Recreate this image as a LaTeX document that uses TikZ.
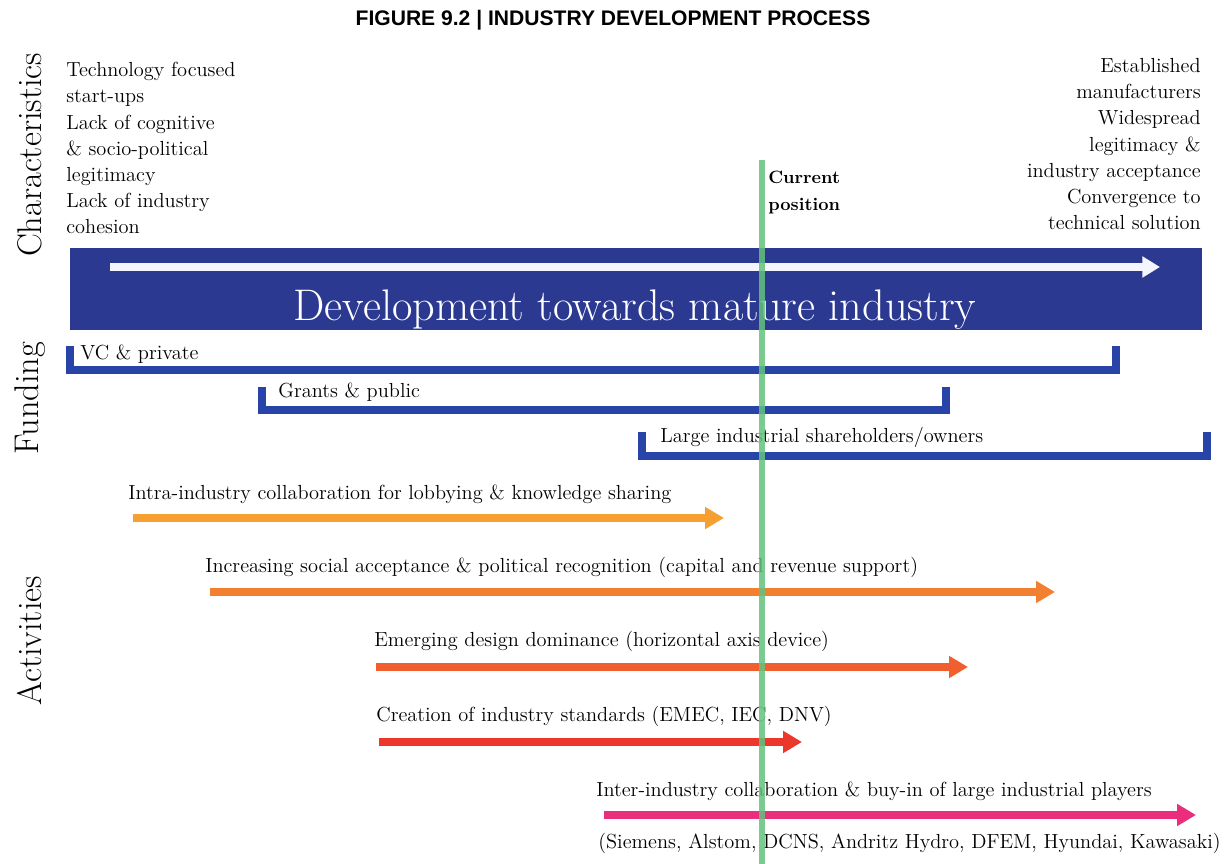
\documentclass[tikz,border=0pt]{standalone}
\usepackage{fontspec}
\newfontfamily\titlefont{Liberation Sans}
\usetikzlibrary{arrows.meta,positioning}

\definecolor{barblue}{RGB}{43,57,144}
\definecolor{fundblue}{RGB}{40,68,168}
\definecolor{nowgreen}{RGB}{100,194,126}
\definecolor{actA}{RGB}{246,160,50}
\definecolor{actB}{RGB}{242,128,48}
\definecolor{actC}{RGB}{240,95,45}
\definecolor{actD}{RGB}{236,55,45}
\definecolor{actE}{RGB}{234,45,125}

\begin{document}
\begin{tikzpicture}[
    x=0.02cm, y=-0.02cm,
    side/.style={rotate=90, inner sep=0, font=\fontsize{19.5}{22}\selectfont},
    trait/.style={inner sep=0, font=\fontsize{11.6}{14.9}\selectfont},
    fund/.style={anchor=base west, inner sep=0, font=\fontsize{11.6}{13}\selectfont},
    fundbar/.style={fundblue, line width=4.5pt, line join=miter},
    act/.style={anchor=base west, inner sep=0, font=\fontsize{11.6}{13}\selectfont},
    actarrow/.style={line width=5pt, -{Triangle[length=10.8pt, width=12pt]}}
]
\useasboundingbox (0,0) rectangle (1225,864);

% Title
\node[font=\titlefont\bfseries\fontsize{12}{14}\selectfont] (title) at (613,20) {FIGURE 9.2 | INDUSTRY DEVELOPMENT PROCESS};

% Side labels
\node[side] (charlabel) at (30,155) {Characteristics};
\node[side] (fundlabel) at (30,398) {Funding};
\node[side] (actlabel) at (30,641) {Activities};

% Characteristics
\node[trait, anchor=north west, align=left] (early) at (66,62) {Technology focused\\start-ups\\Lack of cognitive\\\& socio-political\\legitimacy\\Lack of industry\\cohesion};
\node[trait, anchor=north east, align=right] (mature) at (1201,58) {Established\\manufacturers\\Widespread\\legitimacy \&\\industry acceptance\\Convergence to\\technical solution};

% Development bar
\fill[barblue] (70,248) rectangle (1202,330);
\coordinate (devstart) at (110,267);
\coordinate (devend) at (1160,267);
\draw[white!96!blue, line width=5pt, -{Triangle[length=10pt, width=11.5pt]}] (devstart) -- (devend);
\node[white, font=\fontsize{25.2}{28}\selectfont] (devtext) at (635,310) {Development towards mature industry};

% Funding
\node[fund] (vc) at (80,360) {VC \& private};
\draw[fundbar] (70,346) -- (70,370) -- (1116,370) -- (1116,346);
\node[fund] (grants) at (278,398) {Grants \& public};
\draw[fundbar] (262,387) -- (262,410) -- (946,410) -- (946,387);
\node[fund] (owners) at (660,443) {Large industrial shareholders/owners};
\draw[fundbar] (642,432) -- (642,456) -- (1207,456) -- (1207,432);

% Activities
\node[act] (intra) at (128,500) {Intra-industry collaboration for lobbying \& knowledge sharing};
\coordinate (intra0) at (133,518);
\coordinate (intra1) at (724,518);
\draw[actarrow, actA] (intra0) -- (intra1);

\node[act] (social) at (205,573) {Increasing social acceptance \& political recognition (capital and revenue support)};
\coordinate (social0) at (210,592);
\coordinate (social1) at (1055,592);
\draw[actarrow, actB] (social0) -- (social1);

\node[act] (design) at (374,647) {Emerging design dominance (horizontal axis device)};
\coordinate (design0) at (376,667);
\coordinate (design1) at (968,667);
\draw[actarrow, actC] (design0) -- (design1);

\node[act] (standards) at (376,722) {Creation of industry standards (EMEC, IEC, DNV)};
\coordinate (standards0) at (379,742);
\coordinate (standards1) at (802,742);
\draw[actarrow, actD] (standards0) -- (standards1);

\node[act] (inter) at (596,797) {Inter-industry collaboration \& buy-in of large industrial players};
\coordinate (inter0) at (604,815);
\coordinate (inter1) at (1196,815);
\draw[actarrow, actE] (inter0) -- (inter1);
\node[act] (players) at (598,849) {(Siemens, Alstom, DCNS, Andritz Hydro, DFEM, Hyundai, Kawasaki)};

% Current position
\coordinate (nowtop) at (762,160);
\coordinate (nowbottom) at (762,864);
\draw[nowgreen, opacity=0.85, line width=3.6pt] (nowtop) -- (nowbottom);
\node[anchor=north west, inner sep=0, align=left, font=\bfseries\fontsize{10.2}{15.3}\selectfont] (now) at (768,171) {Current\\position};

\end{tikzpicture}
\end{document}
